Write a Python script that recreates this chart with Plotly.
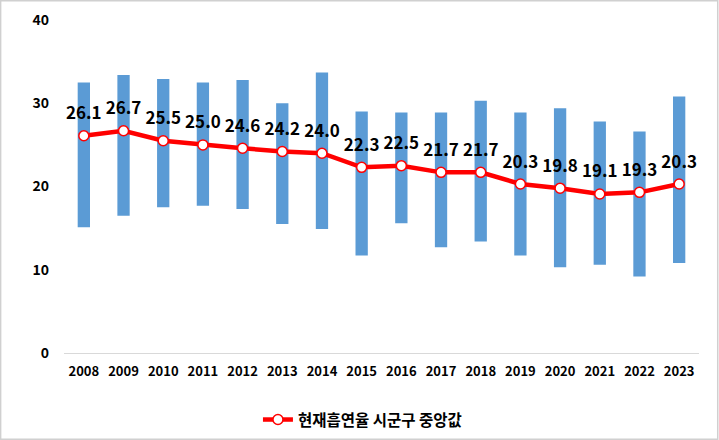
import plotly.graph_objects as go

years = ["2008","2009","2010","2011","2012","2013","2014","2015","2016","2017","2018","2019","2020","2021","2022","2023"]
median = [26.1,26.7,25.5,25.0,24.6,24.2,24.0,22.3,22.5,21.7,21.7,20.3,19.8,19.1,19.3,20.3]
range_min = [15.1,16.5,17.5,17.7,17.3,15.5,14.9,11.7,15.6,12.7,13.4,11.7,10.3,10.6,9.2,10.8]
range_max = [32.5,33.4,32.9,32.5,32.8,30.0,33.7,29.0,28.9,28.9,30.3,28.9,29.4,27.8,26.6,30.8]

font_family = "Noto Sans CJK KR, Open Sans, sans-serif"

fig = go.Figure()
fig.add_trace(go.Bar(
    x=years, base=range_min, y=[a - b for a, b in zip(range_max, range_min)],
    marker=dict(color="#5B9BD5", line=dict(width=0)), width=0.31,
    showlegend=False, hoverinfo="skip"))
fig.add_trace(go.Scatter(
    x=years, y=median, mode="lines+markers", name="현재흡연율 시군구 중앙값",
    line=dict(color="#FF0000", width=4.5),
    marker=dict(symbol="circle", size=10, color="white", line=dict(color="#FF0000", width=1.5))))
fig.add_trace(go.Scatter(
    x=years, y=median, mode="markers+text", showlegend=False, hoverinfo="skip",
    marker=dict(size=18, opacity=0),
    text=[f"{v:.1f}" for v in median], textposition="top center",
    textfont=dict(family=font_family, size=17, color="black", weight="bold")))

fig.update_layout(
    width=719, height=440,
    margin=dict(l=64, r=20, t=20, b=87, autoexpand=False),
    plot_bgcolor="white", paper_bgcolor="white",
    font=dict(family=font_family, color="black"),
    xaxis=dict(type="category", showline=True, linecolor="#D9D9D9", linewidth=1, ticks="",
               automargin=False, range=[-0.5, 15.5], ticklabelstandoff=6,
               tickfont=dict(size=13, weight="bold", color="black"), showgrid=False),
    yaxis=dict(range=[0, 40], tickvals=[0, 10, 20, 30, 40], showgrid=False, zeroline=False,
               showline=False, ticks="", ticklabelstandoff=14, automargin=False,
               tickfont=dict(size=14, weight="bold", color="black")),
    legend=dict(orientation="h", x=0.47, xanchor="center", y=-0.15, yanchor="top",
                font=dict(size=15.5, weight="bold", color="black"), itemwidth=30),
    bargap=0.6,
    shapes=[dict(type="rect", xref="paper", yref="paper",
                 x0=-64/635 + 0.001, x1=1 + 20/635 - 0.002,
                 y0=-87/333 + 0.002, y1=1 + 20/333 - 0.002,
                 line=dict(color="#D0D0D0", width=1.5), layer="below")],
)

fig.write_html("out.html")
